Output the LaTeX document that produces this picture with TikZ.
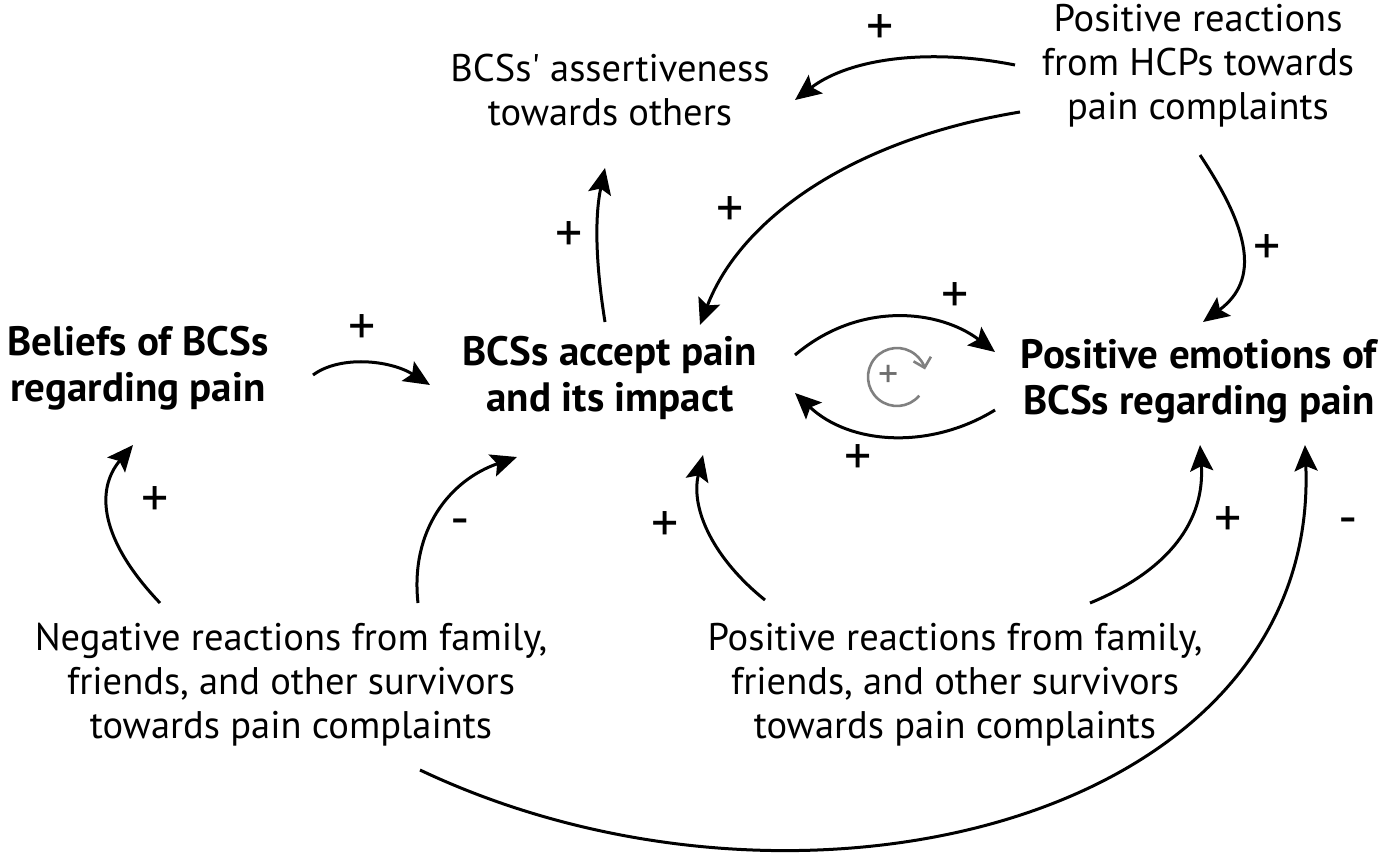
\documentclass[tikz,border=0pt]{standalone}
\usepackage{fontspec}
\setmainfont{PT Sans}[Ligatures=TeXOff]
\usetikzlibrary{arrows.meta}
\tikzset{
  lbl/.style={align=center, font=\fontsize{38.5}{44}\selectfont, inner sep=0pt},
  blbl/.style={lbl, font=\fontsize{41}{46}\selectfont\bfseries},
  sign/.style={font=\fontsize{54}{54}\selectfont, inner sep=0pt},
  conn/.style={line width=3pt, -{Stealth[length=26pt,width=23pt,inset=5pt]}},
  loopc/.style={line width=2.6pt, draw={rgb,255:red,128;green,128;blue,128}, -{Straight Barb[length=9pt,width=18pt]}}
}
\begin{document}
\begin{tikzpicture}[x=1pt,y=-1pt]
\useasboundingbox (0,0) rectangle (1382,855);
\fill[white] (0,0) rectangle (1382,855);
% nodes
\node[lbl] (assert) at (610,90) {BCSs' assertiveness\\towards others};
\node[lbl] (hcp) at (1198,66) {Positive reactions\\from HCPs towards\\pain complaints};
\node[blbl] (beliefs) at (138,368) {Beliefs of BCSs\\regarding pain};
\node[blbl] (accept) at (610,378) {BCSs accept pain\\and its impact};
\node[blbl] (emot) at (1199,381) {Positive emotions of\\BCSs regarding pain};
\node[lbl] (neg) at (291,685) {Negative reactions from family,\\friends, and other survivors\\towards pain complaints};
\node[lbl] (pos) at (955,685) {Positive reactions from family,\\friends, and other survivors\\towards pain complaints};
% connector end points
\coordinate (a1) at (1015,65);  \coordinate (b1) at (795,100);
\coordinate (a2) at (1020,112); \coordinate (b2) at (700,325);
\coordinate (a3) at (1200,155); \coordinate (b3) at (1203,322);
\coordinate (a4) at (605,322);  \coordinate (b4) at (605,168);
\coordinate (a5) at (313,375);  \coordinate (b5) at (430,385);
\coordinate (a6) at (795,355);  \coordinate (b6) at (995,352);
\coordinate (a7) at (995,410);  \coordinate (b7) at (795,393);
\coordinate (a8) at (160,603);  \coordinate (b8) at (133,445);
\coordinate (a9) at (418,603);  \coordinate (b9) at (517,457);
\coordinate (a10) at (765,600); \coordinate (b10) at (703,455);
\coordinate (a11) at (1090,603);\coordinate (b11) at (1200,445);
\coordinate (a12) at (420,770); \coordinate (b12) at (1305,445);
% connectors
\draw[conn] (a1) .. controls (930,48) and (850,58) .. (b1);
\draw[conn] (a2) .. controls (850,140) and (740,220) .. (b2);
\draw[conn] (a3) .. controls (1250,230) and (1260,280) .. (b3);
\draw[conn] (a4) .. controls (595,260) and (595,215) .. (b4);
\draw[conn] (a5) .. controls (340,355) and (390,360) .. (b5);
\draw[conn] (a6) .. controls (860,300) and (940,310) .. (b6);
\draw[conn] (a7) .. controls (930,450) and (850,445) .. (b7);
\draw[conn] (a8) .. controls (100,540) and (95,490) .. (b8);
\draw[conn] (a9) .. controls (410,530) and (450,480) .. (b9);
\draw[conn] (a10) .. controls (715,560) and (690,510) .. (b10);
\draw[conn] (a11) .. controls (1170,570) and (1205,520) .. (b11);
\draw[conn] (a12) .. controls (800,950) and (1320,820) .. (b12);
% signs
\node[sign] (s1) at (880,30) {+};
\node[sign] (s2) at (730,212) {+};
\node[sign] (s3) at (1267,250) {+};
\node[sign] (s4) at (569,237) {+};
\node[sign] (s5) at (362,330) {+};
\node[sign] (s6) at (955,298) {+};
\node[sign] (s7) at (858,460) {+};
\node[sign] (s8) at (155,502) {+};
\node[sign] (s9) at (460,528) {-};
\node[sign] (s10) at (665,527) {+};
\node[sign] (s11) at (1228,522) {+};
\node[sign] (s12) at (1348,527) {-};
% loop symbol
\coordinate (lc) at (897,377);
\draw[loopc] ([shift={(40:29)}]lc) arc[start angle=40, end angle=345, radius=29];
\node[font=\fontsize{40}{40}\selectfont, inner sep=0pt, text={rgb,255:red,110;green,110;blue,110}] (lp) at (889,376) {+};
\end{tikzpicture}
\end{document}
